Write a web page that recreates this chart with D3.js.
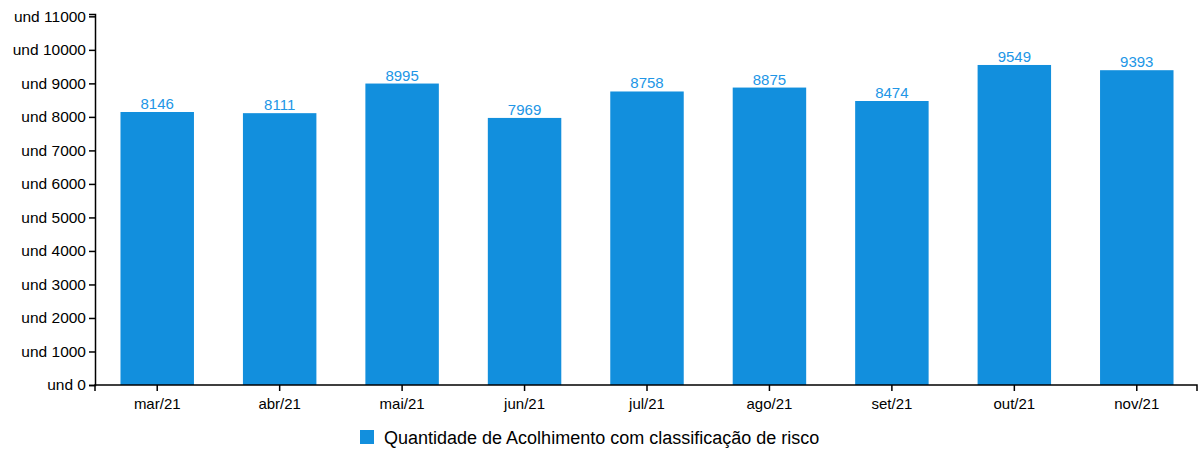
<!DOCTYPE html>
<html>
<head>
<meta charset="utf-8">
<script src="https://cdn.jsdelivr.net/npm/d3@7"></script>
<style>
  html, body { margin: 0; padding: 0; background: #fff; }
  svg { display: block; font-family: "Liberation Sans", Arial, sans-serif; }
</style>
</head>
<body>
<svg id="chart" width="1199" height="450"></svg>
<script>
const months = ["mar/21", "abr/21", "mai/21", "jun/21", "jul/21", "ago/21", "set/21", "out/21", "nov/21"];
const acolhimentos = [8146, 8111, 8995, 7969, 8758, 8875, 8474, 9549, 9393];
const yTicks = [0, 1000, 2000, 3000, 4000, 5000, 6000, 7000, 8000, 9000, 10000, 11000];
const seriesName = "Quantidade de Acolhimento com classificação de risco";

const barColor = "#128fdd";
const labelColor = "#2196e6";

const svg = d3.select("#chart");
const plotLeft = 95, plotRight = 1197, plotTop = 14, plotBottom = 385;

const x = d3.scaleBand().domain(months).range([plotLeft + 1, plotRight + 1]).paddingInner(0.4).paddingOuter(0.2);
const y = d3.scaleLinear().domain([0, 11070]).range([plotBottom, plotTop]);

// bars
svg.append("g").selectAll("rect").data(acolhimentos).join("rect")
  .attr("x", (d, i) => x(months[i]))
  .attr("y", d => y(d))
  .attr("width", x.bandwidth())
  .attr("height", d => y(0) - y(d))
  .attr("fill", barColor);

// value labels
svg.append("g").selectAll("text").data(acolhimentos).join("text")
  .attr("x", (d, i) => x(months[i]) + x.bandwidth() / 2)
  .attr("y", d => y(d) - 3)
  .attr("text-anchor", "middle")
  .attr("font-size", 15)
  .attr("fill", labelColor)
  .text(d => d);

// y axis
const yAxis = svg.append("g").attr("transform", `translate(${plotLeft},0)`)
  .call(d3.axisLeft(y).tickValues(yTicks).tickFormat(d => "und " + d).tickSizeOuter(6));
yAxis.selectAll("text").attr("font-size", 15.5).attr("fill", "#000").attr("font-family", "Liberation Sans, Arial, sans-serif");
yAxis.selectAll("path, line").attr("stroke", "#000").attr("stroke-width", 1.5);

// x axis
const xAxis = svg.append("g").attr("transform", `translate(0,${plotBottom})`)
  .call(d3.axisBottom(x).tickSizeOuter(6));
xAxis.select(".domain").attr("d", `M${plotLeft},6V0H${plotRight}V6`);
xAxis.selectAll("text").attr("font-size", 15).attr("fill", "#000").attr("dy", "1.0em").attr("font-family", "Liberation Sans, Arial, sans-serif");
xAxis.selectAll("path, line").attr("stroke", "#000").attr("stroke-width", 1.5);

// legend
const legend = svg.append("g").attr("transform", "translate(360,430)");
legend.append("rect").attr("width", 14).attr("height", 14).attr("fill", barColor);
legend.append("text").attr("x", 24).attr("y", 14).attr("font-size", 18).attr("fill", "#000").text(seriesName);
</script>
</body>
</html>
